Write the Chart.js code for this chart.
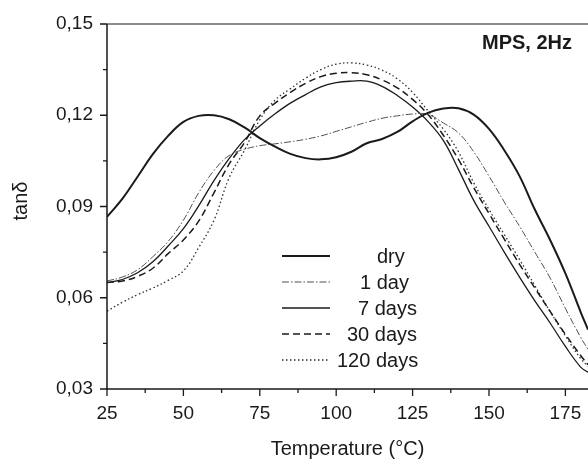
<!DOCTYPE html>
<html>
<head>
<meta charset="utf-8">
<script src="https://cdn.jsdelivr.net/npm/chart.js@4.4.1/dist/chart.umd.min.js"></script>
<style>
  html, body { margin: 0; padding: 0; background: #ffffff; }
  #wrap { width: 588px; height: 459px; }
</style>
</head>
<body>
<div id="wrap"><canvas id="c" width="588" height="459"></canvas></div>
<script>
// ---- data ----
const temperatures = [25,30,35,40,45,50,55,60,65,70,75,80,85,90,95,100,105,110,115,120,125,130,135,140,145,150,155,160,165,170,175,180,182.4];

const dry     = [0.0866,0.0925,0.0998,0.1072,0.1132,0.1178,0.1198,0.1200,0.1187,0.1160,0.1125,0.1097,0.1073,0.1059,0.1055,0.1062,0.1080,0.1108,0.1122,0.1145,0.1180,0.1208,0.1222,0.1223,0.1202,0.1155,0.1085,0.1000,0.0890,0.0790,0.0680,0.0553,0.0495];
const day1    = [0.0655,0.0668,0.0692,0.0735,0.0785,0.0855,0.0945,0.1018,0.1068,0.1088,0.1100,0.1106,0.1113,0.1121,0.1132,0.1147,0.1162,0.1177,0.1190,0.1198,0.1204,0.1203,0.1175,0.1142,0.1080,0.1000,0.0915,0.0835,0.0750,0.0665,0.0565,0.0470,0.0430];
const day7    = [0.0650,0.0660,0.0682,0.0718,0.0770,0.0827,0.0902,0.0985,0.1058,0.1120,0.1165,0.1205,0.1240,0.1268,0.1293,0.1307,0.1312,0.1312,0.1295,0.1265,0.1227,0.1180,0.1118,0.1022,0.0920,0.0835,0.0750,0.0668,0.0590,0.0517,0.0440,0.0372,0.0355];
const day30   = [0.0650,0.0655,0.0670,0.0697,0.0745,0.0790,0.0852,0.0945,0.1040,0.1110,0.1198,0.1240,0.1275,0.1305,0.1327,0.1338,0.1340,0.1333,0.1316,0.1290,0.1252,0.1203,0.1135,0.1055,0.0962,0.0877,0.0793,0.0710,0.0632,0.0555,0.0480,0.0410,0.0380];
const day120  = [0.0556,0.0585,0.0610,0.0632,0.0657,0.0688,0.0765,0.0855,0.0995,0.1085,0.1185,0.1250,0.1287,0.1322,0.1350,0.1368,0.1372,0.1365,0.1348,0.1320,0.1275,0.1215,0.1155,0.1080,0.0978,0.0890,0.0808,0.0726,0.0640,0.0555,0.0475,0.0400,0.0375];

const seriesNames = ['dry','1 day','7 days','30 days','120 days'];
const xTicks = [25,50,75,100,125,150,175];
const xMinorTicks = [37.5,62.5,87.5,112.5,137.5,162.5];
const yTicks = [0.03,0.06,0.09,0.12,0.15];
const yMinorTicks = [0.045,0.075,0.105,0.135];
const xTitle = 'Temperature (°C)';
const yTitle = 'tanδ';
const noteText = 'MPS, 2Hz';

// ---- styles ----
const FONT = '"Liberation Sans", Arial, Helvetica, sans-serif';
const styles = [
  { color: '#1a1a1a', width: 2.0, dash: [] },
  { color: '#505050', width: 1.0, dash: [7,2,1.5,2] },
  { color: '#1a1a1a', width: 1.3, dash: [] },
  { color: '#1a1a1a', width: 1.5, dash: [7,4] },
  { color: '#303030', width: 1.3, dash: [1.5,2.5] }
];
const legendTextX = [377, 360, 358, 347, 337];

function pts(arr) { return temperatures.map((t, i) => ({ x: t, y: arr[i] })); }
const allSeries = [dry, day1, day7, day30, day120];

const datasets = allSeries.map((arr, i) => ({
  label: seriesNames[i],
  data: pts(arr),
  borderColor: styles[i].color,
  borderWidth: styles[i].width,
  borderDash: styles[i].dash,
  pointRadius: 0,
  fill: false,
  tension: 0.4
}));

const decor = {
  id: 'decor',
  afterDraw(chart) {
    const ctx = chart.ctx;
    const xs = chart.scales.x, ys = chart.scales.y;
    const ca = chart.chartArea;
    ctx.save();
    // frame lines
    ctx.strokeStyle = '#666666';
    ctx.lineWidth = 1.6;
    ctx.beginPath(); ctx.moveTo(ca.left, ca.top); ctx.lineTo(ca.right, ca.top); ctx.stroke();
    ctx.strokeStyle = '#1a1a1a';
    ctx.lineWidth = 1.5;
    ctx.beginPath(); ctx.moveTo(ca.left, ca.top); ctx.lineTo(ca.left, ca.bottom); ctx.lineTo(ca.right, ca.bottom); ctx.stroke();
    // ticks
    ctx.lineWidth = 1.3;
    ctx.beginPath();
    xTicks.forEach(v => { const p = xs.getPixelForValue(v); ctx.moveTo(p, ca.bottom); ctx.lineTo(p, ca.bottom + 7); });
    xMinorTicks.forEach(v => { const p = xs.getPixelForValue(v); ctx.moveTo(p, ca.bottom); ctx.lineTo(p, ca.bottom + 4); });
    yTicks.forEach(v => { const p = ys.getPixelForValue(v); ctx.moveTo(ca.left, p); ctx.lineTo(ca.left - 7, p); });
    yMinorTicks.forEach(v => { const p = ys.getPixelForValue(v); ctx.moveTo(ca.left, p); ctx.lineTo(ca.left - 4, p); });
    ctx.stroke();

    // axis titles
    ctx.fillStyle = '#1a1a1a';
    ctx.font = '20px ' + FONT;
    ctx.textAlign = 'center';
    ctx.textBaseline = 'alphabetic';
    ctx.fillText(xTitle, (ca.left + ca.right) / 2, 455);
    ctx.save();
    ctx.translate(27, 201);
    ctx.rotate(-Math.PI / 2);
    ctx.fillText(yTitle, 0, 0);
    ctx.restore();

    // note
    ctx.font = 'bold 20px ' + FONT;
    ctx.textAlign = 'left';
    ctx.fillText(noteText, 482, 49);

    // legend
    ctx.font = '20px ' + FONT;
    ctx.textBaseline = 'middle';
    datasets.forEach((d, i) => {
      const y = 256 + i * 26;
      ctx.strokeStyle = d.borderColor;
      ctx.lineWidth = d.borderWidth;
      ctx.setLineDash(d.borderDash);
      ctx.beginPath(); ctx.moveTo(282, y); ctx.lineTo(330, y); ctx.stroke();
      ctx.setLineDash([]);
      ctx.fillStyle = '#1a1a1a';
      ctx.fillText(d.label, legendTextX[i], y + 1);
    });
    ctx.restore();
  }
};

new Chart(document.getElementById('c'), {
  type: 'line',
  data: { datasets },
  options: {
    responsive: false,
    animation: false,
    devicePixelRatio: 1,
    layout: { padding: { top: 24, left: 0, right: 0, bottom: 0 } },
    plugins: { legend: { display: false }, tooltip: { enabled: false } },
    scales: {
      x: {
        type: 'linear',
        min: 25, max: 182.4,
        afterBuildTicks: s => { s.ticks = xTicks.map(v => ({ value: v })); },
        afterFit: s => { s.height = 70; },
        grid: { display: false, drawTicks: true, tickLength: 7 },
        border: { display: false },
        ticks: { color: '#1a1a1a', padding: 6, maxRotation: 0, font: { family: FONT, size: 19 },
                 callback: v => String(v) }
      },
      y: {
        type: 'linear',
        min: 0.03, max: 0.15,
        afterBuildTicks: s => { s.ticks = yTicks.map(v => ({ value: v })); },
        afterFit: s => { s.width = 107; },
        grid: { display: false, drawTicks: true, tickLength: 7 },
        border: { display: false },
        ticks: { color: '#1a1a1a', padding: 7, font: { family: FONT, size: 19 },
                 callback: v => v.toFixed(2).replace('.', ',') }
      }
    }
  },
  plugins: [decor]
});
</script>
</body>
</html>
